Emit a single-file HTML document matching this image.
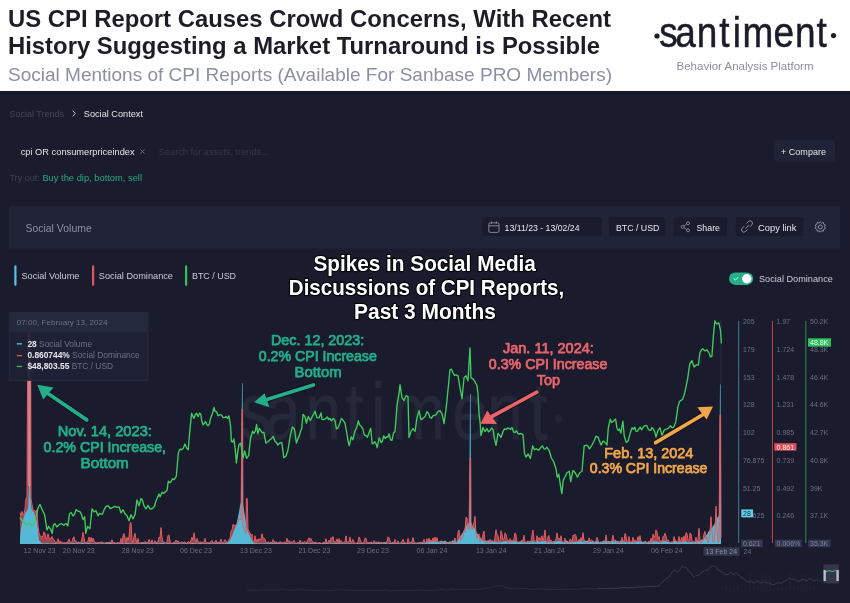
<!DOCTYPE html>
<html><head><meta charset="utf-8"><title>US CPI Report Causes Crowd Concerns</title>
<style>
html,body{margin:0;padding:0;background:#fff;}
body{width:850px;height:603px;overflow:hidden;position:relative;}
svg{position:absolute;left:0;top:0;display:block;}
text{font-family:'Liberation Sans',Arial,sans-serif;}
</style></head><body>
<svg width="850" height="603" viewBox="0 0 850 603">
<rect x="0" y="0" width="850" height="91" fill="#ffffff"/>
<text x="8" y="27" font-size="24" fill="#1d1d27" font-weight="700" textLength="603" lengthAdjust="spacingAndGlyphs" >US CPI Report Causes Crowd Concerns, With Recent</text>
<text x="8" y="53.6" font-size="24" fill="#1d1d27" font-weight="700" textLength="592" lengthAdjust="spacingAndGlyphs" >History Suggesting a Market Turnaround is Possible</text>
<text x="8" y="81.2" font-size="19" fill="#8a90a4" textLength="604" lengthAdjust="spacingAndGlyphs" >Social Mentions of CPI Reports (Available For Sanbase PRO Members)</text>
<circle cx="657" cy="36" r="2.6" fill="#1b1c2a"/>
<circle cx="833.5" cy="35.6" r="2.6" fill="#1b1c2a"/>
<text transform="scale(0.86,1)" y="47.2" font-size="43" fill="#1b1c2a" stroke="#1b1c2a" stroke-width="0.5" x="766.58 785.27 810.10 836.24 852.09 863.36 899.54 924.35 949.50">santiment</text>
<text x="676.5" y="70.4" font-size="11.5" fill="#8b8f9c" textLength="137" lengthAdjust="spacingAndGlyphs" >Behavior Analysis Platform</text>

<rect x="0" y="91" width="850" height="512" fill="#1a1c2d"/>
<rect x="0" y="91" width="850" height="4" fill="#17192a"/>
<text x="9.4" y="116.8" font-size="9" fill="#434658" textLength="54.6" lengthAdjust="spacingAndGlyphs" >Social Trends</text>
<path d="M72.8,110.7 L75.3,113.5 L72.8,116.3" fill="none" stroke="#c9cbd4" stroke-width="1"/>
<text x="83.8" y="116.8" font-size="9.2" fill="#e2e3ea" textLength="59.2" lengthAdjust="spacingAndGlyphs" >Social Context</text>
<text x="20.7" y="155.2" font-size="9.3" fill="#e4e5ec" textLength="113.9" lengthAdjust="spacingAndGlyphs" >cpi OR consumerpriceindex</text>
<path d="M140.3,149.4 L144.5,153.6 M144.5,149.4 L140.3,153.6" stroke="#6f7284" stroke-width="0.9"/>
<text x="158.8" y="155.2" font-size="9.2" fill="#34374a" textLength="110" lengthAdjust="spacingAndGlyphs" >Search for assets, trends...</text>
<rect x="774" y="139.8" width="61" height="22" rx="3" fill="#202335"/>
<text x="781" y="154.7" font-size="9" fill="#e2e3ea" textLength="45" lengthAdjust="spacingAndGlyphs" >+ Compare</text>
<text x="9.4" y="181" font-size="9.3" fill="#3f4254" textLength="30.5" lengthAdjust="spacingAndGlyphs" >Try out:</text>
<text x="42.4" y="181" font-size="9.3" fill="#26a886" textLength="99.6" lengthAdjust="spacingAndGlyphs" >Buy the dip, bottom, sell</text>

<rect x="9" y="205.8" width="831" height="42.6" fill="#212437"/>
<text x="25.4" y="231.5" font-size="11" fill="#8b8fa4" textLength="66.4" lengthAdjust="spacingAndGlyphs" >Social Volume</text>
<rect x="482.3" y="217.3" width="119.6" height="19" rx="2" fill="#1a1c2d"/>
<rect x="488.8" y="222.8" width="10.2" height="9.6" rx="1.5" fill="none" stroke="#8d90a0" stroke-width="0.9"/>
<path d="M488.8,225.8 H499 M491.5,221.5 V223.8 M496.3,221.5 V223.8" stroke="#8d90a0" stroke-width="0.9"/>
<text x="504.6" y="230.8" font-size="8.7" fill="#e6e7ee" textLength="74.9" lengthAdjust="spacingAndGlyphs" >13/11/23 - 13/02/24</text>
<rect x="608.8" y="217.3" width="56.5" height="19" rx="2" fill="#1a1c2d"/>
<text x="616" y="230.8" font-size="8.8" fill="#e6e7ee" textLength="43.4" lengthAdjust="spacingAndGlyphs" >BTC / USD</text>
<rect x="673.5" y="217.3" width="53.5" height="19" rx="2" fill="#1a1c2d"/>
<g stroke="#8d90a0" stroke-width="0.9" fill="none"><circle cx="688" cy="223.3" r="1.5"/><circle cx="682.6" cy="226.8" r="1.5"/><circle cx="688" cy="230.3" r="1.5"/><path d="M684,226 L686.6,224.1 M684,227.6 L686.6,229.5"/></g>
<text x="696.5" y="230.8" font-size="8.8" fill="#e6e7ee" textLength="23.5" lengthAdjust="spacingAndGlyphs" >Share</text>
<rect x="735.9" y="217.3" width="67.6" height="19" rx="2" fill="#1a1c2d"/>
<g stroke="#8d90a0" stroke-width="1" fill="none"><path d="M746.5,223.5 l2,-2 a2.3,2.3 0 0 1 3.3,3.3 l-2,2 M747.5,229.5 l-2,2 a2.3,2.3 0 0 1 -3.3,-3.3 l2,-2 M745.6,228.6 l3.6,-3.6"/></g>
<text x="758" y="230.8" font-size="9.2" fill="#e6e7ee" textLength="38.5" lengthAdjust="spacingAndGlyphs" >Copy link</text>
<g transform="translate(820.3,227)" fill="none" stroke="#8d90a0" stroke-width="1"><circle r="2"/><path d="M0,-5.2 L1.3,-4 L3,-4.6 L3.4,-2.8 L5,-2 L4.3,-0.3 L5,1.5 L3.4,2.3 L3,4.2 L1.2,3.8 L0,5.2 L-1.2,3.8 L-3,4.2 L-3.4,2.3 L-5,1.5 L-4.3,-0.3 L-5,-2 L-3.4,-2.8 L-3,-4.6 L-1.3,-4 Z"/></g>

<rect x="14.3" y="265.3" width="2.2" height="20.6" rx="1.1" fill="#56c2e0"/>
<text x="21.5" y="279.1" font-size="9.1" fill="#c9cbd5" textLength="57.9" lengthAdjust="spacingAndGlyphs" >Social Volume</text>
<rect x="92" y="265.3" width="2.2" height="20.6" rx="1.1" fill="#e0565d"/>
<text x="98.8" y="279.1" font-size="9.2" fill="#c9cbd5" textLength="74.2" lengthAdjust="spacingAndGlyphs" >Social Dominance</text>
<rect x="185" y="265.3" width="2.2" height="20.6" rx="1.1" fill="#2fbf5c"/>
<text x="192" y="279.1" font-size="9.1" fill="#c9cbd5" textLength="44" lengthAdjust="spacingAndGlyphs" >BTC / USD</text>
<rect x="729" y="272.5" width="24.2" height="12.4" rx="6.2" fill="#26b08a"/>
<circle cx="746.8" cy="278.7" r="4.7" fill="#ffffff"/>
<path d="M733.6,278.6 L735.3,280.2 L738.3,277" fill="none" stroke="#e8fff6" stroke-width="0.9"/>
<text x="759" y="281.8" font-size="9.15" fill="#c9cbd5" textLength="73.8" lengthAdjust="spacingAndGlyphs" >Social Dominance</text>

<!-- watermark -->
<text transform="scale(0.8,1)" y="439" font-size="80" fill="#252839" stroke="#252839" stroke-width="0.8" x="299.58 331.37 381.82 431.89 463.95 489.60 565.33 608.95 662.32">santiment</text>
<circle cx="558.5" cy="418.6" r="3.6" fill="#222537"/>

<!-- volume & dominance -->
<path d="M20.0,544.0 L20.0,512.7 L21.0,515.4 L22.0,511.3 L23.0,514.7 L24.0,513.6 L25.0,509.2 L26.0,498.6 L27.0,496.5 L27.8,318.0 L30.6,318.0 L31.0,498.6 L32.0,504.6 L33.0,510.1 L34.0,510.5 L35.0,510.9 L36.0,511.7 L37.0,509.6 L38.0,526.1 L39.0,533.1 L40.0,535.6 L41.0,536.5 L42.0,537.1 L43.0,535.9 L44.0,531.9 L45.0,533.0 L46.0,539.0 L47.0,537.3 L48.0,533.8 L49.0,537.4 L50.0,538.8 L51.0,538.6 L52.0,536.5 L53.0,539.1 L54.0,539.7 L55.0,541.5 L56.0,543.3 L57.0,541.8 L58.0,538.7 L59.0,543.3 L60.0,540.8 L61.0,543.2 L62.0,541.8 L63.0,542.9 L64.0,543.2 L65.0,542.6 L66.0,543.2 L67.0,541.9 L68.0,541.7 L69.0,538.9 L70.0,541.8 L71.0,542.7 L72.0,542.0 L73.0,538.0 L74.0,536.8 L75.0,541.6 L76.0,540.7 L77.0,542.9 L78.0,542.6 L79.0,541.7 L80.0,543.0 L81.0,542.3 L82.0,538.4 L83.0,532.2 L84.0,537.9 L85.0,543.1 L86.0,542.0 L87.0,542.7 L88.0,540.9 L89.0,536.9 L90.0,542.2 L91.0,537.3 L92.0,541.6 L93.0,538.2 L94.0,540.4 L95.0,542.3 L96.0,543.2 L97.0,542.6 L98.0,542.6 L99.0,542.4 L100.0,542.6 L101.0,542.0 L102.0,542.1 L103.0,542.5 L104.0,543.2 L105.0,542.9 L106.0,542.4 L107.0,542.6 L108.0,542.5 L109.0,542.4 L110.0,542.1 L111.0,542.9 L112.0,539.7 L113.0,543.3 L114.0,542.2 L115.0,543.1 L116.0,543.1 L117.0,543.0 L118.0,542.5 L119.0,543.1 L120.0,542.8 L121.0,538.5 L122.0,543.4 L123.0,535.7 L124.0,533.6 L125.0,537.4 L126.0,542.6 L127.0,537.4 L128.0,540.1 L129.0,537.0 L130.2,522.6 L131.0,522.6 L132.0,539.8 L133.0,543.2 L134.0,536.5 L135.0,533.3 L136.0,539.8 L137.0,543.1 L138.0,538.4 L139.0,543.1 L140.0,543.2 L141.0,542.5 L142.0,542.5 L143.0,542.8 L144.0,542.3 L145.0,541.2 L146.0,542.9 L147.0,541.9 L148.0,542.9 L149.0,539.4 L150.0,541.7 L151.0,543.0 L152.0,539.8 L153.0,542.5 L154.0,543.4 L155.0,540.7 L156.0,543.0 L157.0,542.0 L158.0,541.8 L159.0,537.2 L160.0,537.8 L161.0,527.5 L162.0,537.6 L163.0,541.9 L164.0,542.3 L165.0,542.2 L166.0,543.2 L167.0,541.9 L168.0,535.4 L169.0,535.1 L170.0,541.1 L171.0,543.3 L172.0,543.3 L173.0,543.0 L174.0,542.5 L175.0,542.2 L176.0,540.0 L177.0,542.1 L178.0,540.8 L179.0,542.2 L180.0,542.5 L181.0,543.2 L182.0,541.6 L183.0,542.6 L184.0,542.6 L185.0,541.7 L186.0,543.1 L187.0,543.2 L188.0,541.8 L189.0,541.8 L190.0,543.4 L191.0,540.0 L192.0,537.3 L193.0,539.8 L194.0,532.8 L195.0,539.3 L196.0,542.8 L197.0,538.3 L198.0,541.7 L199.0,542.5 L200.0,541.7 L201.0,542.3 L202.0,542.4 L203.0,542.1 L204.0,542.2 L205.0,538.4 L206.0,542.9 L207.0,542.9 L208.0,542.4 L209.0,543.1 L210.0,542.5 L211.0,541.6 L212.0,540.3 L213.0,543.0 L214.0,541.8 L215.0,542.7 L216.0,540.2 L217.0,543.2 L218.0,541.8 L219.0,543.0 L220.0,541.7 L221.0,539.0 L222.0,542.5 L223.0,542.7 L224.0,541.9 L225.0,539.7 L226.0,541.6 L227.0,541.8 L228.0,542.5 L229.0,539.5 L230.0,538.3 L231.0,531.4 L232.0,529.8 L233.0,524.3 L234.0,525.2 L235.0,526.0 L236.0,524.6 L237.0,524.6 L238.0,521.4 L239.0,518.5 L240.0,518.7 L241.0,520.0 L242.0,409.0 L242.6,409.0 L243.0,525.9 L244.0,529.7 L245.0,531.2 L246.0,533.6 L246.4,498.4 L247.2,498.4 L248.0,528.8 L249.0,531.8 L250.0,532.7 L251.0,536.2 L252.0,534.1 L253.0,541.0 L254.0,542.8 L255.0,535.7 L256.0,542.7 L257.0,539.3 L258.0,541.7 L259.0,538.7 L260.0,540.0 L261.0,538.7 L262.0,533.8 L263.0,538.3 L264.0,538.0 L265.0,539.3 L266.0,541.9 L267.0,543.0 L268.0,541.7 L269.0,542.6 L270.0,543.1 L271.0,541.9 L272.0,542.8 L273.0,539.6 L274.0,540.9 L275.0,542.8 L276.0,541.6 L277.0,543.2 L278.0,542.6 L279.0,542.3 L280.0,541.9 L281.0,541.9 L282.0,542.7 L283.0,543.0 L284.0,541.8 L285.0,542.7 L286.0,543.0 L287.0,538.3 L288.0,541.9 L289.0,540.5 L290.0,542.4 L291.0,541.8 L292.0,542.0 L293.0,542.3 L294.0,540.4 L295.0,542.3 L296.0,543.4 L297.0,543.1 L298.0,542.0 L299.0,543.2 L300.0,540.0 L301.0,542.7 L302.0,541.7 L303.0,542.8 L304.0,541.6 L305.0,542.1 L306.0,541.8 L307.0,542.7 L308.0,539.5 L309.0,537.8 L310.0,539.9 L311.0,538.4 L312.0,541.7 L313.0,541.7 L314.0,543.3 L315.0,541.8 L316.0,543.1 L317.0,542.7 L318.0,543.1 L319.0,542.5 L320.0,543.0 L321.0,543.3 L322.0,543.3 L323.0,542.3 L324.0,542.8 L325.0,542.6 L326.0,538.7 L327.0,543.0 L328.0,542.6 L329.0,540.1 L330.0,542.6 L331.0,537.7 L332.0,539.0 L333.0,536.5 L334.0,542.1 L335.0,541.6 L336.0,541.8 L337.0,538.9 L338.0,543.1 L339.0,538.5 L340.0,543.0 L341.0,540.5 L342.0,541.7 L343.0,543.1 L344.0,542.4 L345.0,541.8 L346.0,535.9 L347.0,542.7 L348.0,541.6 L349.0,542.0 L350.0,537.1 L351.0,542.2 L352.0,542.2 L353.0,539.4 L354.0,542.5 L355.0,543.0 L356.0,543.4 L357.0,542.8 L358.0,542.3 L359.0,536.9 L360.0,539.1 L361.0,542.0 L362.0,543.4 L363.0,542.8 L364.0,541.7 L365.0,538.2 L366.0,538.2 L367.0,542.4 L368.0,543.0 L369.0,542.2 L370.0,542.8 L371.0,541.8 L372.0,543.4 L373.0,542.6 L374.0,540.5 L375.0,542.8 L376.0,541.9 L377.0,542.4 L378.0,542.5 L379.0,541.7 L380.0,543.4 L381.0,542.1 L382.0,542.8 L383.0,543.0 L384.0,542.2 L385.0,542.6 L386.0,541.9 L387.0,542.4 L388.0,536.8 L389.0,537.8 L390.0,541.1 L391.0,542.3 L392.0,543.3 L393.0,541.9 L394.0,543.3 L395.0,539.3 L396.0,543.3 L397.0,542.3 L398.0,540.8 L399.0,543.0 L400.0,543.4 L401.0,542.1 L402.0,541.7 L403.0,539.2 L404.0,542.0 L405.0,542.4 L406.0,543.2 L407.0,543.4 L408.0,538.3 L409.0,542.0 L410.0,542.8 L411.0,541.7 L412.0,542.1 L413.0,537.5 L414.0,542.0 L415.0,542.7 L416.0,543.2 L417.0,543.0 L418.0,542.5 L419.0,543.0 L420.0,542.0 L421.0,542.8 L422.0,541.9 L423.0,543.1 L424.0,539.1 L425.0,543.0 L426.0,542.1 L427.0,538.7 L428.0,543.1 L429.0,538.2 L430.0,542.1 L431.0,539.8 L432.0,542.0 L433.0,537.8 L434.0,541.8 L435.0,537.0 L436.0,542.1 L437.0,537.6 L438.0,542.0 L439.0,542.6 L440.0,542.2 L441.0,542.0 L442.0,543.3 L443.0,541.7 L444.0,542.4 L445.0,541.9 L446.0,543.0 L447.0,543.2 L448.0,542.9 L449.0,542.6 L450.0,543.0 L451.0,543.0 L452.0,543.2 L453.0,542.6 L454.0,542.8 L455.0,538.1 L456.0,542.7 L457.0,542.8 L458.0,532.1 L459.0,529.9 L460.0,537.4 L461.0,540.3 L462.0,537.9 L463.0,537.0 L464.0,530.5 L465.0,532.2 L466.0,517.1 L467.0,518.1 L468.0,529.3 L469.0,529.5 L470.1,458.0 L470.7,458.0 L471.0,521.6 L472.0,529.7 L473.0,525.7 L474.0,522.8 L475.0,516.3 L476.0,532.9 L477.0,538.3 L478.0,535.9 L479.0,533.9 L480.0,542.0 L481.0,538.4 L482.0,540.3 L483.0,534.4 L484.0,531.0 L485.0,542.0 L486.0,542.3 L487.0,543.0 L488.0,541.2 L489.0,542.2 L490.0,539.4 L491.0,542.6 L492.0,540.1 L493.0,541.7 L494.0,542.3 L495.0,536.8 L496.0,529.7 L497.0,535.0 L498.0,535.6 L499.0,542.0 L500.0,543.2 L501.0,530.7 L502.0,534.4 L503.0,539.5 L504.0,539.2 L505.0,532.9 L506.0,534.3 L507.0,538.7 L508.0,543.3 L509.0,542.8 L510.0,538.6 L511.0,542.2 L512.0,540.1 L513.0,541.9 L514.0,538.6 L515.0,532.9 L516.0,534.9 L517.0,542.0 L518.0,542.2 L519.0,542.0 L520.0,541.9 L521.0,541.8 L522.0,539.8 L523.0,542.7 L524.0,535.2 L525.0,542.3 L526.0,542.8 L527.0,541.6 L528.0,542.9 L529.0,542.0 L530.0,540.9 L531.0,542.4 L532.0,534.4 L533.0,530.1 L534.0,539.6 L535.0,541.7 L536.0,542.9 L537.0,535.7 L538.0,539.3 L539.0,537.5 L540.0,540.6 L541.0,537.6 L542.0,535.7 L543.0,541.3 L544.0,537.0 L545.0,529.9 L546.0,540.5 L547.0,543.1 L548.0,536.5 L549.0,535.4 L550.0,543.3 L551.0,539.8 L552.0,541.6 L553.0,542.9 L554.0,542.9 L555.0,540.8 L556.0,539.1 L557.0,532.9 L558.0,538.9 L559.0,538.0 L560.0,540.2 L561.0,535.7 L562.0,541.8 L563.0,542.5 L564.0,541.9 L565.0,538.1 L566.0,543.2 L567.0,542.8 L568.0,543.3 L569.0,542.5 L570.0,539.2 L571.0,539.7 L572.0,543.4 L573.0,535.3 L574.0,535.7 L575.0,534.2 L576.0,535.7 L577.0,541.9 L578.0,541.9 L579.0,539.3 L580.0,541.6 L581.0,537.6 L582.0,540.7 L583.0,532.7 L584.0,540.9 L585.0,542.3 L586.0,543.3 L587.0,542.9 L588.0,542.9 L589.0,537.8 L590.0,541.7 L591.0,540.2 L592.0,539.9 L593.0,541.9 L594.0,543.0 L595.0,542.3 L596.0,540.8 L597.0,537.4 L598.0,540.1 L599.0,542.9 L600.0,541.8 L601.0,542.6 L602.0,541.7 L603.0,542.8 L604.0,541.9 L605.0,542.0 L606.0,534.9 L607.0,542.3 L608.0,542.6 L609.0,542.7 L610.0,542.9 L611.0,542.8 L612.0,539.6 L613.0,535.1 L614.0,541.9 L615.0,539.7 L616.0,541.7 L617.0,542.5 L618.0,542.8 L619.0,542.2 L620.0,542.7 L621.0,541.7 L622.0,537.3 L623.0,542.8 L624.0,541.8 L625.0,533.4 L626.0,536.0 L627.0,543.1 L628.0,541.6 L629.0,536.5 L630.0,541.9 L631.0,542.5 L632.0,542.4 L633.0,537.2 L634.0,543.1 L635.0,539.9 L636.0,542.1 L637.0,541.0 L638.0,536.6 L639.0,540.1 L640.0,535.6 L641.0,541.8 L642.0,541.7 L643.0,542.7 L644.0,541.8 L645.0,543.1 L646.0,542.9 L647.0,542.7 L648.0,541.9 L649.0,540.9 L650.0,543.1 L651.0,538.1 L652.0,543.1 L653.0,534.1 L654.0,537.0 L655.0,536.2 L656.0,529.9 L657.0,532.0 L658.0,538.9 L659.0,536.6 L660.0,542.7 L661.0,540.6 L662.0,542.7 L663.0,536.7 L664.0,536.2 L665.0,533.2 L666.0,535.8 L667.0,540.9 L668.0,539.7 L669.0,541.9 L670.0,542.6 L671.0,541.9 L672.0,541.9 L673.0,543.2 L674.0,536.6 L675.0,539.7 L676.0,541.7 L677.0,542.3 L678.0,542.6 L679.0,536.5 L680.0,542.4 L681.0,539.7 L682.0,537.3 L683.0,543.0 L684.0,535.8 L685.0,541.0 L686.0,532.6 L687.0,533.3 L688.0,540.7 L689.0,541.3 L690.0,532.9 L691.0,533.8 L692.0,541.2 L693.0,542.5 L694.0,543.4 L695.0,541.7 L696.0,537.1 L697.0,543.1 L698.0,540.1 L699.0,528.3 L700.0,539.4 L701.0,543.3 L702.0,542.1 L703.0,539.5 L704.0,533.9 L705.0,531.3 L706.0,538.9 L707.0,537.4 L708.0,542.8 L709.0,538.8 L710.0,531.2 L711.0,516.7 L712.0,532.3 L713.0,542.2 L714.0,541.7 L715.0,529.3 L716.0,506.2 L717.0,529.2 L718.0,542.4 L719.0,541.8 L720.0,415.0 L720.6,415.0 L721.0,537.8 L721.0,544.0 Z" fill="#e0565d" fill-opacity="0.7"/>
<path d="M20.0,544.0 L20.0,538.3 L21.0,528.7 L22.0,524.0 L23.0,519.4 L24.0,516.4 L25.0,513.4 L26.0,512.3 L27.0,510.6 L28.0,508.1 L29.2,485.0 L30.0,485.0 L31.0,506.9 L32.0,510.1 L33.0,511.2 L34.0,512.1 L35.0,515.7 L36.0,518.8 L37.0,521.8 L38.0,529.4 L39.0,540.2 L40.0,540.9 L41.0,542.7 L42.0,542.9 L43.0,543.4 L44.0,543.6 L45.0,543.6 L46.0,543.0 L47.0,543.3 L48.0,543.0 L49.0,543.4 L50.0,543.6 L51.0,543.5 L52.0,543.5 L53.0,543.4 L54.0,543.1 L55.0,543.2 L56.0,543.1 L57.0,543.4 L58.0,543.7 L59.0,543.6 L60.0,543.6 L61.0,543.7 L62.0,543.6 L63.0,543.4 L64.0,542.9 L65.0,543.6 L66.0,543.5 L67.0,543.7 L68.0,543.6 L69.0,542.9 L70.0,543.5 L71.0,543.1 L72.0,543.4 L73.0,542.9 L74.0,543.0 L75.0,543.3 L76.0,543.5 L77.0,542.9 L78.0,542.9 L79.0,543.5 L80.0,543.5 L81.0,543.0 L82.0,543.1 L83.0,543.0 L84.0,543.3 L85.0,543.4 L86.0,543.4 L87.0,543.1 L88.0,543.0 L89.0,542.9 L90.0,543.3 L91.0,543.2 L92.0,543.4 L93.0,543.5 L94.0,543.5 L95.0,543.4 L96.0,543.4 L97.0,543.0 L98.0,543.3 L99.0,543.7 L100.0,543.7 L101.0,543.3 L102.0,543.4 L103.0,543.1 L104.0,543.5 L105.0,543.3 L106.0,543.0 L107.0,543.3 L108.0,543.3 L109.0,542.9 L110.0,542.9 L111.0,542.9 L112.0,543.3 L113.0,543.6 L114.0,543.0 L115.0,543.2 L116.0,542.9 L117.0,543.4 L118.0,543.0 L119.0,543.3 L120.0,543.4 L121.0,543.3 L122.0,543.2 L123.0,543.1 L124.0,543.7 L125.0,543.6 L126.0,543.0 L127.0,543.2 L128.0,543.1 L129.0,543.2 L130.0,543.6 L131.0,543.4 L132.0,543.5 L133.0,543.5 L134.0,543.7 L135.0,543.5 L136.0,543.3 L137.0,543.7 L138.0,543.3 L139.0,543.0 L140.0,543.4 L141.0,543.4 L142.0,542.9 L143.0,543.1 L144.0,543.4 L145.0,543.1 L146.0,543.6 L147.0,543.2 L148.0,543.5 L149.0,543.5 L150.0,543.3 L151.0,543.5 L152.0,543.3 L153.0,543.3 L154.0,543.6 L155.0,543.5 L156.0,543.3 L157.0,543.1 L158.0,543.4 L159.0,543.2 L160.0,543.0 L161.0,543.1 L162.0,543.3 L163.0,543.0 L164.0,543.2 L165.0,543.7 L166.0,543.6 L167.0,543.2 L168.0,543.3 L169.0,543.1 L170.0,543.2 L171.0,543.5 L172.0,543.1 L173.0,542.9 L174.0,543.3 L175.0,543.2 L176.0,543.5 L177.0,543.2 L178.0,543.2 L179.0,543.5 L180.0,543.3 L181.0,543.5 L182.0,543.7 L183.0,542.9 L184.0,543.5 L185.0,543.2 L186.0,542.9 L187.0,543.3 L188.0,543.5 L189.0,543.7 L190.0,543.3 L191.0,543.4 L192.0,543.0 L193.0,543.1 L194.0,543.4 L195.0,543.2 L196.0,543.5 L197.0,543.5 L198.0,543.5 L199.0,543.4 L200.0,543.1 L201.0,542.9 L202.0,543.7 L203.0,543.1 L204.0,543.7 L205.0,543.4 L206.0,542.9 L207.0,543.5 L208.0,543.6 L209.0,543.0 L210.0,543.0 L211.0,543.6 L212.0,543.6 L213.0,543.2 L214.0,543.4 L215.0,543.4 L216.0,542.9 L217.0,543.2 L218.0,543.5 L219.0,543.3 L220.0,543.0 L221.0,543.0 L222.0,543.7 L223.0,543.0 L224.0,543.5 L225.0,543.0 L226.0,542.9 L227.0,542.7 L228.0,542.4 L229.0,541.5 L230.0,539.9 L231.0,538.1 L232.0,536.1 L233.0,533.3 L234.0,530.4 L235.0,528.3 L236.0,525.4 L237.0,521.7 L238.0,517.2 L239.0,512.2 L240.0,506.0 L241.0,501.9 L242.0,383.3 L242.6,383.3 L243.0,504.2 L244.0,509.8 L245.0,516.8 L246.0,522.7 L247.0,527.9 L248.0,531.6 L249.0,533.7 L250.0,536.0 L251.0,538.2 L252.0,540.4 L253.0,541.9 L254.0,542.6 L255.0,543.2 L256.0,542.9 L257.0,543.4 L258.0,543.4 L259.0,543.0 L260.0,543.6 L261.0,543.1 L262.0,543.5 L263.0,543.5 L264.0,543.5 L265.0,543.0 L266.0,543.7 L267.0,542.9 L268.0,543.5 L269.0,543.0 L270.0,543.1 L271.0,543.2 L272.0,543.4 L273.0,543.1 L274.0,543.3 L275.0,543.0 L276.0,543.6 L277.0,543.1 L278.0,543.4 L279.0,543.1 L280.0,543.6 L281.0,543.2 L282.0,543.5 L283.0,543.6 L284.0,543.4 L285.0,543.3 L286.0,543.2 L287.0,543.0 L288.0,543.7 L289.0,542.9 L290.0,543.4 L291.0,543.5 L292.0,543.6 L293.0,543.5 L294.0,543.5 L295.0,543.5 L296.0,543.2 L297.0,543.5 L298.0,543.6 L299.0,543.3 L300.0,543.1 L301.0,543.5 L302.0,543.2 L303.0,543.0 L304.0,543.5 L305.0,543.7 L306.0,543.0 L307.0,543.3 L308.0,543.2 L309.0,543.4 L310.0,543.3 L311.0,543.1 L312.0,543.6 L313.0,543.3 L314.0,543.4 L315.0,543.0 L316.0,543.5 L317.0,543.0 L318.0,543.4 L319.0,543.6 L320.0,543.0 L321.0,543.1 L322.0,543.6 L323.0,543.2 L324.0,543.2 L325.0,543.3 L326.0,543.3 L327.0,543.1 L328.0,543.3 L329.0,543.6 L330.0,543.7 L331.0,543.1 L332.0,543.4 L333.0,542.9 L334.0,543.5 L335.0,542.9 L336.0,543.1 L337.0,543.1 L338.0,543.5 L339.0,543.0 L340.0,543.3 L341.0,543.6 L342.0,543.0 L343.0,543.6 L344.0,543.4 L345.0,543.2 L346.0,543.2 L347.0,543.5 L348.0,543.4 L349.0,543.6 L350.0,543.5 L351.0,543.2 L352.0,543.7 L353.0,543.4 L354.0,543.6 L355.0,543.7 L356.0,543.6 L357.0,543.2 L358.0,543.2 L359.0,543.5 L360.0,543.0 L361.0,543.5 L362.0,543.3 L363.0,543.3 L364.0,543.5 L365.0,543.4 L366.0,543.7 L367.0,543.6 L368.0,543.3 L369.0,543.6 L370.0,543.7 L371.0,543.1 L372.0,543.1 L373.0,543.3 L374.0,543.7 L375.0,543.1 L376.0,543.5 L377.0,543.1 L378.0,543.2 L379.0,543.0 L380.0,543.5 L381.0,543.1 L382.0,543.4 L383.0,543.2 L384.0,542.9 L385.0,543.1 L386.0,543.1 L387.0,543.5 L388.0,543.6 L389.0,543.4 L390.0,543.1 L391.0,543.1 L392.0,543.4 L393.0,543.0 L394.0,543.0 L395.0,543.6 L396.0,543.1 L397.0,543.2 L398.0,543.1 L399.0,543.4 L400.0,543.5 L401.0,543.4 L402.0,543.0 L403.0,543.4 L404.0,543.1 L405.0,543.0 L406.0,543.6 L407.0,543.1 L408.0,543.3 L409.0,543.3 L410.0,543.5 L411.0,543.5 L412.0,543.6 L413.0,543.1 L414.0,543.4 L415.0,543.0 L416.0,543.7 L417.0,543.0 L418.0,543.0 L419.0,543.3 L420.0,543.2 L421.0,543.6 L422.0,543.1 L423.0,543.1 L424.0,543.0 L425.0,543.5 L426.0,542.4 L427.0,542.0 L428.0,542.1 L429.0,540.4 L430.0,541.3 L431.0,542.0 L432.0,541.1 L433.0,540.9 L434.0,540.8 L435.0,540.5 L436.0,540.9 L437.0,541.9 L438.0,541.8 L439.0,541.5 L440.0,541.3 L441.0,540.4 L442.0,541.1 L443.0,541.6 L444.0,541.1 L445.0,540.5 L446.0,540.9 L447.0,542.5 L448.0,542.0 L449.0,542.0 L450.0,541.0 L451.0,542.1 L452.0,540.8 L453.0,540.6 L454.0,540.3 L455.0,540.7 L456.0,541.4 L457.0,541.8 L458.0,540.0 L459.0,539.1 L460.0,537.2 L461.0,535.6 L462.0,533.5 L463.0,531.9 L464.0,530.7 L465.0,527.6 L466.0,526.6 L467.0,524.4 L468.0,523.9 L469.0,522.8 L470.1,394.0 L470.7,394.0 L471.0,522.8 L472.0,524.5 L473.0,526.8 L474.0,527.8 L475.0,528.8 L476.0,531.7 L477.0,533.0 L478.0,534.5 L479.0,536.0 L480.0,536.6 L481.0,538.4 L482.0,539.3 L483.0,541.0 L484.0,540.2 L485.0,540.7 L486.0,540.7 L487.0,540.8 L488.0,540.2 L489.0,540.5 L490.0,541.9 L491.0,542.0 L492.0,541.0 L493.0,542.0 L494.0,541.1 L495.0,542.4 L496.0,540.7 L497.0,542.8 L498.0,542.6 L499.0,540.6 L500.0,541.3 L501.0,542.3 L502.0,542.1 L503.0,540.9 L504.0,541.5 L505.0,541.2 L506.0,540.9 L507.0,541.8 L508.0,540.5 L509.0,540.3 L510.0,541.4 L511.0,540.4 L512.0,541.3 L513.0,541.0 L514.0,541.8 L515.0,540.3 L516.0,541.8 L517.0,541.4 L518.0,542.2 L519.0,542.3 L520.0,541.4 L521.0,541.4 L522.0,541.2 L523.0,541.4 L524.0,542.4 L525.0,541.5 L526.0,542.8 L527.0,541.3 L528.0,540.5 L529.0,541.6 L530.0,542.7 L531.0,540.4 L532.0,542.3 L533.0,540.3 L534.0,542.2 L535.0,542.6 L536.0,540.2 L537.0,540.9 L538.0,540.2 L539.0,542.1 L540.0,542.1 L541.0,541.3 L542.0,540.7 L543.0,541.8 L544.0,540.8 L545.0,541.1 L546.0,541.1 L547.0,541.8 L548.0,542.3 L549.0,540.7 L550.0,541.9 L551.0,541.9 L552.0,541.9 L553.0,541.3 L554.0,541.1 L555.0,541.1 L556.0,541.7 L557.0,540.7 L558.0,541.3 L559.0,540.5 L560.0,541.4 L561.0,540.8 L562.0,540.9 L563.0,542.3 L564.0,542.0 L565.0,541.4 L566.0,540.3 L567.0,540.9 L568.0,541.0 L569.0,542.4 L570.0,542.3 L571.0,541.9 L572.0,541.3 L573.0,542.2 L574.0,541.9 L575.0,541.5 L576.0,541.9 L577.0,541.7 L578.0,540.5 L579.0,541.7 L580.0,540.4 L581.0,540.1 L582.0,541.6 L583.0,542.5 L584.0,540.2 L585.0,540.2 L586.0,541.2 L587.0,540.8 L588.0,540.5 L589.0,541.5 L590.0,541.7 L591.0,542.1 L592.0,541.6 L593.0,541.0 L594.0,541.3 L595.0,542.1 L596.0,541.3 L597.0,541.7 L598.0,540.5 L599.0,542.6 L600.0,542.0 L601.0,542.3 L602.0,542.0 L603.0,540.5 L604.0,540.7 L605.0,540.7 L606.0,541.2 L607.0,540.9 L608.0,540.9 L609.0,540.9 L610.0,541.6 L611.0,541.1 L612.0,541.5 L613.0,540.8 L614.0,541.8 L615.0,541.4 L616.0,540.3 L617.0,541.5 L618.0,540.5 L619.0,542.0 L620.0,540.5 L621.0,541.2 L622.0,541.9 L623.0,541.1 L624.0,540.5 L625.0,542.2 L626.0,542.1 L627.0,541.6 L628.0,542.0 L629.0,542.2 L630.0,541.9 L631.0,541.3 L632.0,541.5 L633.0,542.6 L634.0,540.9 L635.0,541.6 L636.0,542.2 L637.0,541.7 L638.0,540.9 L639.0,541.2 L640.0,541.5 L641.0,541.3 L642.0,541.6 L643.0,542.0 L644.0,541.7 L645.0,540.6 L646.0,541.6 L647.0,542.6 L648.0,542.3 L649.0,541.6 L650.0,542.2 L651.0,540.5 L652.0,541.5 L653.0,542.0 L654.0,540.7 L655.0,541.4 L656.0,541.7 L657.0,541.1 L658.0,542.4 L659.0,541.6 L660.0,542.5 L661.0,541.7 L662.0,540.3 L663.0,541.4 L664.0,541.1 L665.0,541.2 L666.0,540.7 L667.0,542.1 L668.0,542.0 L669.0,541.8 L670.0,542.6 L671.0,542.6 L672.0,542.3 L673.0,540.7 L674.0,540.9 L675.0,541.2 L676.0,540.5 L677.0,541.3 L678.0,541.9 L679.0,541.7 L680.0,541.2 L681.0,542.1 L682.0,541.8 L683.0,540.5 L684.0,541.5 L685.0,540.8 L686.0,541.4 L687.0,542.2 L688.0,542.2 L689.0,542.1 L690.0,542.6 L691.0,542.1 L692.0,542.2 L693.0,541.6 L694.0,541.0 L695.0,542.2 L696.0,541.6 L697.0,540.2 L698.0,540.6 L699.0,541.5 L700.0,541.0 L701.0,539.4 L702.0,539.4 L703.0,540.0 L704.0,538.8 L705.0,537.0 L706.0,535.1 L707.0,534.7 L708.0,532.0 L709.0,531.2 L710.0,530.0 L711.0,527.1 L712.0,528.0 L713.0,525.9 L714.0,524.6 L715.0,523.3 L716.0,519.9 L717.0,517.8 L718.0,517.1 L719.0,515.0 L720.0,384.2 L720.6,384.2 L721.0,518.2 L721.0,544.0 Z" fill="#55b8d4"/>
<path d="M20.0,512.7 L21.0,515.4 L22.0,511.3 L23.0,514.7 L24.0,513.6 L25.0,509.2 L26.0,498.6 L27.0,496.5 L27.8,318.0 L30.6,318.0 L31.0,498.6 L32.0,504.6 L33.0,510.1 L34.0,510.5 L35.0,510.9 L36.0,511.7 L37.0,509.6 L38.0,526.1 L39.0,533.1 L40.0,535.6 L41.0,536.5 L42.0,537.1 L43.0,535.9 L44.0,531.9 L45.0,533.0 L46.0,539.0 L47.0,537.3 L48.0,533.8 L49.0,537.4 L50.0,538.8 L51.0,538.6 L52.0,536.5 L53.0,539.1 L54.0,539.7 L55.0,541.5 L56.0,543.3 L57.0,541.8 L58.0,538.7 L59.0,543.3 L60.0,540.8 L61.0,543.2 L62.0,541.8 L63.0,542.9 L64.0,543.2 L65.0,542.6 L66.0,543.2 L67.0,541.9 L68.0,541.7 L69.0,538.9 L70.0,541.8 L71.0,542.7 L72.0,542.0 L73.0,538.0 L74.0,536.8 L75.0,541.6 L76.0,540.7 L77.0,542.9 L78.0,542.6 L79.0,541.7 L80.0,543.0 L81.0,542.3 L82.0,538.4 L83.0,532.2 L84.0,537.9 L85.0,543.1 L86.0,542.0 L87.0,542.7 L88.0,540.9 L89.0,536.9 L90.0,542.2 L91.0,537.3 L92.0,541.6 L93.0,538.2 L94.0,540.4 L95.0,542.3 L96.0,543.2 L97.0,542.6 L98.0,542.6 L99.0,542.4 L100.0,542.6 L101.0,542.0 L102.0,542.1 L103.0,542.5 L104.0,543.2 L105.0,542.9 L106.0,542.4 L107.0,542.6 L108.0,542.5 L109.0,542.4 L110.0,542.1 L111.0,542.9 L112.0,539.7 L113.0,543.3 L114.0,542.2 L115.0,543.1 L116.0,543.1 L117.0,543.0 L118.0,542.5 L119.0,543.1 L120.0,542.8 L121.0,538.5 L122.0,543.4 L123.0,535.7 L124.0,533.6 L125.0,537.4 L126.0,542.6 L127.0,537.4 L128.0,540.1 L129.0,537.0 L130.2,522.6 L131.0,522.6 L132.0,539.8 L133.0,543.2 L134.0,536.5 L135.0,533.3 L136.0,539.8 L137.0,543.1 L138.0,538.4 L139.0,543.1 L140.0,543.2 L141.0,542.5 L142.0,542.5 L143.0,542.8 L144.0,542.3 L145.0,541.2 L146.0,542.9 L147.0,541.9 L148.0,542.9 L149.0,539.4 L150.0,541.7 L151.0,543.0 L152.0,539.8 L153.0,542.5 L154.0,543.4 L155.0,540.7 L156.0,543.0 L157.0,542.0 L158.0,541.8 L159.0,537.2 L160.0,537.8 L161.0,527.5 L162.0,537.6 L163.0,541.9 L164.0,542.3 L165.0,542.2 L166.0,543.2 L167.0,541.9 L168.0,535.4 L169.0,535.1 L170.0,541.1 L171.0,543.3 L172.0,543.3 L173.0,543.0 L174.0,542.5 L175.0,542.2 L176.0,540.0 L177.0,542.1 L178.0,540.8 L179.0,542.2 L180.0,542.5 L181.0,543.2 L182.0,541.6 L183.0,542.6 L184.0,542.6 L185.0,541.7 L186.0,543.1 L187.0,543.2 L188.0,541.8 L189.0,541.8 L190.0,543.4 L191.0,540.0 L192.0,537.3 L193.0,539.8 L194.0,532.8 L195.0,539.3 L196.0,542.8 L197.0,538.3 L198.0,541.7 L199.0,542.5 L200.0,541.7 L201.0,542.3 L202.0,542.4 L203.0,542.1 L204.0,542.2 L205.0,538.4 L206.0,542.9 L207.0,542.9 L208.0,542.4 L209.0,543.1 L210.0,542.5 L211.0,541.6 L212.0,540.3 L213.0,543.0 L214.0,541.8 L215.0,542.7 L216.0,540.2 L217.0,543.2 L218.0,541.8 L219.0,543.0 L220.0,541.7 L221.0,539.0 L222.0,542.5 L223.0,542.7 L224.0,541.9 L225.0,539.7 L226.0,541.6 L227.0,541.8 L228.0,542.5 L229.0,539.5 L230.0,538.3 L231.0,531.4 L232.0,529.8 L233.0,524.3 L234.0,525.2 L235.0,526.0 L236.0,524.6 L237.0,524.6 L238.0,521.4 L239.0,518.5 L240.0,518.7 L241.0,520.0 L242.0,409.0 L242.6,409.0 L243.0,525.9 L244.0,529.7 L245.0,531.2 L246.0,533.6 L246.4,498.4 L247.2,498.4 L248.0,528.8 L249.0,531.8 L250.0,532.7 L251.0,536.2 L252.0,534.1 L253.0,541.0 L254.0,542.8 L255.0,535.7 L256.0,542.7 L257.0,539.3 L258.0,541.7 L259.0,538.7 L260.0,540.0 L261.0,538.7 L262.0,533.8 L263.0,538.3 L264.0,538.0 L265.0,539.3 L266.0,541.9 L267.0,543.0 L268.0,541.7 L269.0,542.6 L270.0,543.1 L271.0,541.9 L272.0,542.8 L273.0,539.6 L274.0,540.9 L275.0,542.8 L276.0,541.6 L277.0,543.2 L278.0,542.6 L279.0,542.3 L280.0,541.9 L281.0,541.9 L282.0,542.7 L283.0,543.0 L284.0,541.8 L285.0,542.7 L286.0,543.0 L287.0,538.3 L288.0,541.9 L289.0,540.5 L290.0,542.4 L291.0,541.8 L292.0,542.0 L293.0,542.3 L294.0,540.4 L295.0,542.3 L296.0,543.4 L297.0,543.1 L298.0,542.0 L299.0,543.2 L300.0,540.0 L301.0,542.7 L302.0,541.7 L303.0,542.8 L304.0,541.6 L305.0,542.1 L306.0,541.8 L307.0,542.7 L308.0,539.5 L309.0,537.8 L310.0,539.9 L311.0,538.4 L312.0,541.7 L313.0,541.7 L314.0,543.3 L315.0,541.8 L316.0,543.1 L317.0,542.7 L318.0,543.1 L319.0,542.5 L320.0,543.0 L321.0,543.3 L322.0,543.3 L323.0,542.3 L324.0,542.8 L325.0,542.6 L326.0,538.7 L327.0,543.0 L328.0,542.6 L329.0,540.1 L330.0,542.6 L331.0,537.7 L332.0,539.0 L333.0,536.5 L334.0,542.1 L335.0,541.6 L336.0,541.8 L337.0,538.9 L338.0,543.1 L339.0,538.5 L340.0,543.0 L341.0,540.5 L342.0,541.7 L343.0,543.1 L344.0,542.4 L345.0,541.8 L346.0,535.9 L347.0,542.7 L348.0,541.6 L349.0,542.0 L350.0,537.1 L351.0,542.2 L352.0,542.2 L353.0,539.4 L354.0,542.5 L355.0,543.0 L356.0,543.4 L357.0,542.8 L358.0,542.3 L359.0,536.9 L360.0,539.1 L361.0,542.0 L362.0,543.4 L363.0,542.8 L364.0,541.7 L365.0,538.2 L366.0,538.2 L367.0,542.4 L368.0,543.0 L369.0,542.2 L370.0,542.8 L371.0,541.8 L372.0,543.4 L373.0,542.6 L374.0,540.5 L375.0,542.8 L376.0,541.9 L377.0,542.4 L378.0,542.5 L379.0,541.7 L380.0,543.4 L381.0,542.1 L382.0,542.8 L383.0,543.0 L384.0,542.2 L385.0,542.6 L386.0,541.9 L387.0,542.4 L388.0,536.8 L389.0,537.8 L390.0,541.1 L391.0,542.3 L392.0,543.3 L393.0,541.9 L394.0,543.3 L395.0,539.3 L396.0,543.3 L397.0,542.3 L398.0,540.8 L399.0,543.0 L400.0,543.4 L401.0,542.1 L402.0,541.7 L403.0,539.2 L404.0,542.0 L405.0,542.4 L406.0,543.2 L407.0,543.4 L408.0,538.3 L409.0,542.0 L410.0,542.8 L411.0,541.7 L412.0,542.1 L413.0,537.5 L414.0,542.0 L415.0,542.7 L416.0,543.2 L417.0,543.0 L418.0,542.5 L419.0,543.0 L420.0,542.0 L421.0,542.8 L422.0,541.9 L423.0,543.1 L424.0,539.1 L425.0,543.0 L426.0,542.1 L427.0,538.7 L428.0,543.1 L429.0,538.2 L430.0,542.1 L431.0,539.8 L432.0,542.0 L433.0,537.8 L434.0,541.8 L435.0,537.0 L436.0,542.1 L437.0,537.6 L438.0,542.0 L439.0,542.6 L440.0,542.2 L441.0,542.0 L442.0,543.3 L443.0,541.7 L444.0,542.4 L445.0,541.9 L446.0,543.0 L447.0,543.2 L448.0,542.9 L449.0,542.6 L450.0,543.0 L451.0,543.0 L452.0,543.2 L453.0,542.6 L454.0,542.8 L455.0,538.1 L456.0,542.7 L457.0,542.8 L458.0,532.1 L459.0,529.9 L460.0,537.4 L461.0,540.3 L462.0,537.9 L463.0,537.0 L464.0,530.5 L465.0,532.2 L466.0,517.1 L467.0,518.1 L468.0,529.3 L469.0,529.5 L470.1,458.0 L470.7,458.0 L471.0,521.6 L472.0,529.7 L473.0,525.7 L474.0,522.8 L475.0,516.3 L476.0,532.9 L477.0,538.3 L478.0,535.9 L479.0,533.9 L480.0,542.0 L481.0,538.4 L482.0,540.3 L483.0,534.4 L484.0,531.0 L485.0,542.0 L486.0,542.3 L487.0,543.0 L488.0,541.2 L489.0,542.2 L490.0,539.4 L491.0,542.6 L492.0,540.1 L493.0,541.7 L494.0,542.3 L495.0,536.8 L496.0,529.7 L497.0,535.0 L498.0,535.6 L499.0,542.0 L500.0,543.2 L501.0,530.7 L502.0,534.4 L503.0,539.5 L504.0,539.2 L505.0,532.9 L506.0,534.3 L507.0,538.7 L508.0,543.3 L509.0,542.8 L510.0,538.6 L511.0,542.2 L512.0,540.1 L513.0,541.9 L514.0,538.6 L515.0,532.9 L516.0,534.9 L517.0,542.0 L518.0,542.2 L519.0,542.0 L520.0,541.9 L521.0,541.8 L522.0,539.8 L523.0,542.7 L524.0,535.2 L525.0,542.3 L526.0,542.8 L527.0,541.6 L528.0,542.9 L529.0,542.0 L530.0,540.9 L531.0,542.4 L532.0,534.4 L533.0,530.1 L534.0,539.6 L535.0,541.7 L536.0,542.9 L537.0,535.7 L538.0,539.3 L539.0,537.5 L540.0,540.6 L541.0,537.6 L542.0,535.7 L543.0,541.3 L544.0,537.0 L545.0,529.9 L546.0,540.5 L547.0,543.1 L548.0,536.5 L549.0,535.4 L550.0,543.3 L551.0,539.8 L552.0,541.6 L553.0,542.9 L554.0,542.9 L555.0,540.8 L556.0,539.1 L557.0,532.9 L558.0,538.9 L559.0,538.0 L560.0,540.2 L561.0,535.7 L562.0,541.8 L563.0,542.5 L564.0,541.9 L565.0,538.1 L566.0,543.2 L567.0,542.8 L568.0,543.3 L569.0,542.5 L570.0,539.2 L571.0,539.7 L572.0,543.4 L573.0,535.3 L574.0,535.7 L575.0,534.2 L576.0,535.7 L577.0,541.9 L578.0,541.9 L579.0,539.3 L580.0,541.6 L581.0,537.6 L582.0,540.7 L583.0,532.7 L584.0,540.9 L585.0,542.3 L586.0,543.3 L587.0,542.9 L588.0,542.9 L589.0,537.8 L590.0,541.7 L591.0,540.2 L592.0,539.9 L593.0,541.9 L594.0,543.0 L595.0,542.3 L596.0,540.8 L597.0,537.4 L598.0,540.1 L599.0,542.9 L600.0,541.8 L601.0,542.6 L602.0,541.7 L603.0,542.8 L604.0,541.9 L605.0,542.0 L606.0,534.9 L607.0,542.3 L608.0,542.6 L609.0,542.7 L610.0,542.9 L611.0,542.8 L612.0,539.6 L613.0,535.1 L614.0,541.9 L615.0,539.7 L616.0,541.7 L617.0,542.5 L618.0,542.8 L619.0,542.2 L620.0,542.7 L621.0,541.7 L622.0,537.3 L623.0,542.8 L624.0,541.8 L625.0,533.4 L626.0,536.0 L627.0,543.1 L628.0,541.6 L629.0,536.5 L630.0,541.9 L631.0,542.5 L632.0,542.4 L633.0,537.2 L634.0,543.1 L635.0,539.9 L636.0,542.1 L637.0,541.0 L638.0,536.6 L639.0,540.1 L640.0,535.6 L641.0,541.8 L642.0,541.7 L643.0,542.7 L644.0,541.8 L645.0,543.1 L646.0,542.9 L647.0,542.7 L648.0,541.9 L649.0,540.9 L650.0,543.1 L651.0,538.1 L652.0,543.1 L653.0,534.1 L654.0,537.0 L655.0,536.2 L656.0,529.9 L657.0,532.0 L658.0,538.9 L659.0,536.6 L660.0,542.7 L661.0,540.6 L662.0,542.7 L663.0,536.7 L664.0,536.2 L665.0,533.2 L666.0,535.8 L667.0,540.9 L668.0,539.7 L669.0,541.9 L670.0,542.6 L671.0,541.9 L672.0,541.9 L673.0,543.2 L674.0,536.6 L675.0,539.7 L676.0,541.7 L677.0,542.3 L678.0,542.6 L679.0,536.5 L680.0,542.4 L681.0,539.7 L682.0,537.3 L683.0,543.0 L684.0,535.8 L685.0,541.0 L686.0,532.6 L687.0,533.3 L688.0,540.7 L689.0,541.3 L690.0,532.9 L691.0,533.8 L692.0,541.2 L693.0,542.5 L694.0,543.4 L695.0,541.7 L696.0,537.1 L697.0,543.1 L698.0,540.1 L699.0,528.3 L700.0,539.4 L701.0,543.3 L702.0,542.1 L703.0,539.5 L704.0,533.9 L705.0,531.3 L706.0,538.9 L707.0,537.4 L708.0,542.8 L709.0,538.8 L710.0,531.2 L711.0,516.7 L712.0,532.3 L713.0,542.2 L714.0,541.7 L715.0,529.3 L716.0,506.2 L717.0,529.2 L718.0,542.4 L719.0,541.8 L720.0,415.0 L720.6,415.0 L721.0,537.8" fill="none" stroke="#e35b61" stroke-width="1"/>
<line x1="721" y1="320" x2="721" y2="384" stroke="#2c2f42" stroke-width="1"/>
<rect x="28.1" y="318" width="2.4" height="168" fill="#d98591"/>
<!-- BTC -->
<polyline points="19.9,517.7 22.0,520.6 23.7,521.4 25.4,524.7 27.2,524.3 29.0,523.5 30.7,524.1 32.4,526.0 33.8,522.8 35.1,519.1 36.5,514.8 38.2,507.5 40.0,504.4 42.3,510.0 44.6,514.8 47.0,530.0 48.7,526.4 50.4,528.8 52.2,533.4 53.3,525.3 55.0,523.8 56.8,527.0 59.1,524.7 61.4,523.5 63.8,525.3 66.0,523.5 67.8,525.9 69.6,513.7 71.3,512.5 73.0,516.0 74.5,514.4 76.0,509.6 78.3,511.3 79.8,511.3 81.2,513.7 83.0,519.5 84.7,517.0 85.8,533.4 87.6,526.4 89.9,528.8 92.0,508.9 94.0,511.8 96.0,510.8 98.0,515.8 99.5,513.5 101.0,513.8 102.5,514.2 104.0,509.9 106.0,506.4 107.2,506.0 108.4,505.9 110.2,508.5 112.0,507.9 113.5,507.0 115.0,506.4 117.0,507.3 119.0,506.9 121.0,512.8 123.0,509.9 125.0,513.8 127.0,515.8 129.0,520.8 131.0,514.8 133.0,518.8 135.0,514.8 137.0,499.9 139.0,505.9 141.0,498.4 142.5,500.5 144.0,505.9 146.0,508.9 148.0,505.4 150.0,508.9 151.5,509.0 153.0,507.9 154.5,506.2 156.0,500.9 157.5,497.5 159.0,493.9 160.0,496.9 162.0,492.4 163.5,493.4 165.0,492.1 167.0,490.5 168.3,481.3 169.6,482.6 170.8,482.2 172.4,478.9 174.0,479.7 176.3,476.3 178.3,453.1 180.0,449.0 181.7,449.8 183.3,448.1 185.0,444.0 186.6,448.1 188.2,449.8 189.9,429.9 191.6,413.3 192.8,416.2 194.0,418.3 195.2,414.8 196.5,413.3 198.2,416.6 199.4,413.1 200.7,414.1 201.9,421.3 203.2,424.9 204.4,423.1 205.7,421.6 206.9,424.7 208.2,425.7 209.4,423.8 210.6,418.3 212.3,413.9 214.0,407.5 215.2,411.6 216.5,411.6 218.0,415.8 219.7,414.8 221.4,414.9 223.1,417.6 224.8,417.4 226.2,416.6 227.6,418.4 229.0,415.8 230.6,426.6 231.4,441.5 232.7,442.1 233.9,439.0 235.2,449.1 236.4,463.0 237.7,452.2 238.9,444.8 240.5,443.2 241.8,449.2 243.0,458.0 244.6,451.0 246.6,458.3 248.6,455.7 250.6,437.8 252.6,431.1 253.9,433.3 255.3,431.1 256.6,424.5 257.9,433.8 259.2,428.5 260.5,430.2 261.9,432.5 263.9,432.5 265.9,443.1 267.9,441.7 269.9,439.8 271.5,438.7 273.2,436.4 275.2,441.7 276.5,442.4 277.8,445.1 279.8,443.1 281.8,442.4 283.8,457.7 285.8,456.3 287.8,451.0 289.1,443.1 290.4,435.1 292.4,427.1 294.4,429.1 296.4,443.1 297.7,439.2 299.0,436.4 300.4,431.7 301.7,428.5 303.0,414.5 305.0,416.5 306.3,423.2 308.3,416.5 310.3,420.5 312.3,416.5 313.6,414.3 315.0,411.2 317.0,417.9 319.0,417.9 321.0,412.9 322.0,419.4 323.5,419.6 325.0,418.9 327.4,416.9 328.7,419.6 330.0,418.4 331.4,420.8 333.4,418.4 335.0,420.8 336.4,428.8 337.7,428.2 339.0,425.8 341.4,418.4 343.4,420.8 344.9,422.8 346.8,432.8 348.1,441.3 349.3,445.7 351.3,436.8 352.8,439.8 354.8,431.8 356.8,427.3 358.3,420.8 359.6,425.0 360.8,425.8 362.8,428.8 364.3,434.8 366.2,435.8 367.4,437.2 368.7,433.8 370.7,428.3 372.2,443.7 373.4,443.5 374.7,441.7 375.9,443.1 377.2,447.7 379.2,437.8 381.2,442.7 382.4,441.0 383.7,435.8 385.1,438.5 386.6,436.8 387.9,437.2 389.1,433.8 390.6,439.8 392.0,440.4 393.6,432.8 395.0,431.5 397.0,405.6 399.0,393.7 400.0,384.7 402.0,397.7 404.0,400.6 406.0,395.7 408.0,396.7 409.0,437.5 411.0,431.5 413.0,428.5 415.0,431.5 417.0,417.6 419.0,410.6 421.0,419.6 422.5,418.9 424.0,417.6 425.5,415.6 427.0,411.6 428.5,413.2 430.0,417.6 431.5,418.2 433.0,415.6 434.5,415.5 436.0,414.6 438.0,411.6 440.0,410.6 442.0,413.6 444.0,423.5 446.0,409.6 448.0,389.7 450.0,369.8 451.5,369.2 453.0,372.8 454.5,375.5 456.0,374.8 458.0,375.8 460.0,387.7 462.0,398.7 464.0,377.8 466.0,375.8 468.0,380.7 470.0,347.9 471.0,377.8 473.0,378.8 475.0,381.7 477.0,385.7 478.0,393.7 479.0,413.6 480.0,421.5 481.0,435.5 483.0,427.5 485.0,431.5 487.0,428.5 488.5,431.9 490.0,430.5 491.5,428.0 493.0,429.5 494.5,438.9 496.0,445.4 498.0,433.5 499.5,435.1 501.0,437.5 503.0,431.5 504.5,428.8 506.0,429.5 507.5,428.0 509.0,428.5 510.5,429.3 512.0,427.5 513.5,431.8 515.0,432.5 516.5,430.8 518.0,433.5 519.5,434.0 521.0,433.5 523.0,434.6 524.5,453.3 526.0,457.0 528.2,454.0 530.4,458.5 532.7,445.8 534.2,449.6 536.4,448.8 538.7,450.3 540.9,447.3 542.4,445.9 543.9,448.8 545.4,449.1 546.9,447.3 549.1,450.3 551.3,457.8 553.6,461.5 555.8,468.2 557.3,477.2 558.8,474.2 560.3,484.6 561.8,493.6 563.3,480.1 564.8,477.2 567.0,472.7 569.3,471.2 570.7,481.6 573.0,470.4 575.2,472.7 577.5,477.2 579.7,472.7 582.0,471.2 584.2,445.8 586.4,445.1 587.9,446.1 589.4,448.8 591.6,445.8 593.9,441.3 596.1,436.1 598.4,437.6 599.0,439.7 601.0,445.0 603.0,441.0 605.0,442.4 607.0,445.0 608.3,427.8 610.3,419.1 611.6,422.5 613.6,421.1 615.6,419.1 616.9,427.8 618.2,430.4 619.5,429.1 620.9,433.1 622.9,421.1 624.2,435.7 626.2,442.4 628.2,441.0 630.2,433.1 632.1,427.8 633.5,429.3 634.8,427.1 636.1,431.4 637.5,431.1 638.8,429.1 640.1,427.1 641.5,429.8 642.8,427.8 644.1,425.9 645.4,425.8 646.8,425.4 648.1,429.1 649.4,430.2 650.7,430.4 652.0,427.5 653.4,429.1 654.7,431.6 656.0,437.0 658.0,430.4 660.0,427.8 662.0,435.7 664.0,430.4 665.3,429.3 666.6,429.1 668.0,428.6 669.3,427.1 670.6,425.8 672.0,427.8 673.6,427.3 675.8,421.9 677.9,406.9 679.5,401.5 681.1,400.4 682.8,398.9 684.4,393.9 685.4,389.6 687.6,378.9 689.8,363.8 691.9,360.6 694.1,367.0 696.2,364.9 698.4,364.9 699.9,353.0 701.3,350.0 702.7,348.7 704.8,350.9 707.0,349.8 709.1,353.0 710.5,356.9 711.9,356.3 713.4,335.8 714.9,320.8 716.7,324.0 718.8,322.9 720.5,330.4 721.4,343.4" fill="none" stroke="#3fcd5d" stroke-width="1.35" stroke-linejoin="round"/>

<!-- axes -->
<line x1="738.7" y1="321" x2="738.7" y2="543" stroke="#3b7d98" stroke-width="1"/>
<line x1="772.4" y1="321" x2="772.4" y2="543" stroke="#b8484f" stroke-width="1"/>
<line x1="805.8" y1="321" x2="805.8" y2="543" stroke="#2f8a55" stroke-width="1"/>
<text x="742.9" y="323.8" font-size="7" fill="#6b6f80" >205</text>
<text x="776.6" y="323.8" font-size="7" fill="#6b6f80" >1.97</text>
<text x="810" y="323.8" font-size="7" fill="#6b6f80" >50.2K</text>
<text x="742.9" y="351.7" font-size="7" fill="#6b6f80" >179</text>
<text x="776.6" y="351.7" font-size="7" fill="#6b6f80" >1.724</text>
<text x="810" y="351.7" font-size="7" fill="#6b6f80" >48.3K</text>
<text x="742.9" y="379.7" font-size="7" fill="#6b6f80" >153</text>
<text x="776.6" y="379.7" font-size="7" fill="#6b6f80" >1.478</text>
<text x="810" y="379.7" font-size="7" fill="#6b6f80" >46.4K</text>
<text x="742.9" y="407.4" font-size="7" fill="#6b6f80" >128</text>
<text x="776.6" y="407.4" font-size="7" fill="#6b6f80" >1.231</text>
<text x="810" y="407.4" font-size="7" fill="#6b6f80" >44.6K</text>
<text x="742.9" y="435.3" font-size="7" fill="#6b6f80" >102</text>
<text x="776.6" y="435.3" font-size="7" fill="#6b6f80" >0.985</text>
<text x="810" y="435.3" font-size="7" fill="#6b6f80" >42.7K</text>
<text x="742.9" y="463.1" font-size="7" fill="#6b6f80" >76.875</text>
<text x="776.6" y="463.1" font-size="7" fill="#6b6f80" >0.739</text>
<text x="810" y="463.1" font-size="7" fill="#6b6f80" >40.8K</text>
<text x="742.9" y="491.0" font-size="7" fill="#6b6f80" >51.25</text>
<text x="776.6" y="491.0" font-size="7" fill="#6b6f80" >0.492</text>
<text x="810" y="491.0" font-size="7" fill="#6b6f80" >39K</text>
<text x="742.9" y="518.4" font-size="7" fill="#6b6f80" >25.625</text>
<text x="776.6" y="518.4" font-size="7" fill="#6b6f80" >0.246</text>
<text x="810" y="518.4" font-size="7" fill="#6b6f80" >37.1K</text>
<rect x="808" y="338.3" width="23" height="8.4" fill="#2fbf5c"/>
<text x="810" y="345.2" font-size="7" fill="#e9fff0" >48.8K</text>
<rect x="774.3" y="443.2" width="22.1" height="7.4" fill="#e0525a"/>
<text x="776.6" y="449.5" font-size="7" fill="#ffe9ea" >0.861</text>
<rect x="741.3" y="509.4" width="11.7" height="7.8" fill="#5fd0ea"/>
<text x="743" y="516" font-size="7" fill="#14303a" >28</text>
<rect x="741.3" y="539.6" width="21.4" height="7.6" fill="#34374f"/>
<text x="742.9" y="546" font-size="7" fill="#7d8196" >0.621</text>
<rect x="774.8" y="539.6" width="26.9" height="7.6" fill="#34374f"/>
<text x="776.6" y="546" font-size="7" fill="#7d8196" >0.006%</text>
<rect x="808.2" y="539.6" width="22.3" height="7.6" fill="#34374f"/>
<text x="810" y="546" font-size="7" fill="#7d8196" >35.3K</text>
<text x="23.6" y="553.3" font-size="7" fill="#6b6f80" >12 Nov 23</text>
<text x="62.8" y="553.3" font-size="7" fill="#6b6f80" >20 Nov 23</text>
<text x="121.8" y="553.3" font-size="7" fill="#6b6f80" >28 Nov 23</text>
<text x="180" y="553.3" font-size="7" fill="#6b6f80" >06 Dec 23</text>
<text x="240" y="553.3" font-size="7" fill="#6b6f80" >13 Dec 23</text>
<text x="298.4" y="553.3" font-size="7" fill="#6b6f80" >21 Dec 23</text>
<text x="357" y="553.3" font-size="7" fill="#6b6f80" >29 Dec 23</text>
<text x="416.6" y="553.3" font-size="7" fill="#6b6f80" >06 Jan 24</text>
<text x="475.9" y="553.3" font-size="7" fill="#6b6f80" >13 Jan 24</text>
<text x="534" y="553.3" font-size="7" fill="#6b6f80" >21 Jan 24</text>
<text x="593" y="553.3" font-size="7" fill="#6b6f80" >29 Jan 24</text>
<text x="651" y="553.3" font-size="7" fill="#6b6f80" >06 Feb 24</text>
<rect x="703.5" y="547.2" width="36" height="8.6" fill="#34374f"/>
<text x="705.5" y="553.8" font-size="7" fill="#8a8ea2" >13 Feb 24</text>
<text x="743.6" y="553.8" font-size="7" fill="#6b6f80" >24</text>

<!-- navigator -->
<g stroke="#25283b" stroke-width="0.8"><line x1="722" y1="587.3" x2="722" y2="591"/><line x1="726" y1="584.5" x2="726" y2="591"/><line x1="730" y1="587.0" x2="730" y2="591"/><line x1="734" y1="588.9" x2="734" y2="591"/><line x1="738" y1="586.2" x2="738" y2="591"/><line x1="742" y1="589.4" x2="742" y2="591"/><line x1="746" y1="589.5" x2="746" y2="591"/><line x1="750" y1="571.8" x2="750" y2="591"/><line x1="754" y1="584.1" x2="754" y2="591"/><line x1="758" y1="586.1" x2="758" y2="591"/><line x1="762" y1="575.1" x2="762" y2="591"/><line x1="766" y1="572.8" x2="766" y2="591"/><line x1="770" y1="574.9" x2="770" y2="591"/><line x1="774" y1="589.8" x2="774" y2="591"/><line x1="778" y1="587.4" x2="778" y2="591"/><line x1="782" y1="586.9" x2="782" y2="591"/><line x1="786" y1="587.0" x2="786" y2="591"/><line x1="790" y1="573.3" x2="790" y2="591"/><line x1="794" y1="584.0" x2="794" y2="591"/><line x1="798" y1="585.0" x2="798" y2="591"/><line x1="802" y1="574.1" x2="802" y2="591"/><line x1="806" y1="574.3" x2="806" y2="591"/><line x1="810" y1="585.4" x2="810" y2="591"/><line x1="814" y1="584.9" x2="814" y2="591"/></g>
<polyline points="247.0,590.0 249.0,590.1 251.1,590.2 253.1,590.3 255.2,590.4 257.2,590.2 259.2,590.4 261.3,589.5 263.3,590.0 265.3,590.4 267.4,590.1 269.4,590.4 271.5,589.6 273.5,590.0 275.5,589.7 277.6,590.0 279.6,590.1 281.7,589.5 283.7,589.7 285.7,589.8 287.8,590.4 289.8,590.3 291.8,589.7 293.9,590.3 295.9,589.6 298.0,590.1 300.0,590.0 302.0,589.6 304.0,589.5 306.0,590.4 308.0,589.7 310.0,589.8 312.0,590.5 314.0,590.4 316.0,589.9 318.0,590.6 320.0,590.1 322.0,590.3 324.0,589.8 326.0,590.6 328.0,590.3 330.0,590.6 332.0,590.6 334.0,590.0 336.0,590.0 338.0,589.9 340.0,589.8 342.0,589.8 344.0,590.0 346.0,590.3 348.0,589.7 350.0,590.4 352.0,590.1 354.0,590.1 356.0,590.6 358.0,590.3 360.0,590.1 362.0,590.3 364.0,590.5 366.0,589.9 368.0,590.8 370.0,589.9 372.0,590.6 374.0,590.7 376.0,589.9 378.0,590.7 380.0,590.3 382.0,590.5 384.0,589.9 386.0,590.0 388.0,590.1 390.0,590.9 392.0,590.2 394.0,590.7 396.0,590.9 398.0,590.9 400.0,590.5 402.0,590.3 404.0,590.3 406.0,590.4 408.0,590.7 410.0,590.0 412.0,590.6 414.0,590.6 416.0,590.7 418.0,589.8 420.0,590.7 422.0,589.8 424.0,590.0 426.0,590.3 428.0,590.6 430.0,590.0 432.0,590.5 434.0,590.1 436.0,589.9 438.0,589.8 440.0,589.7 442.0,589.6 444.0,589.6 446.0,590.1 448.0,590.4 450.0,589.5 452.0,589.4 454.0,590.3 456.0,589.8 458.0,589.7 460.0,589.5 462.0,589.8 464.0,590.0 466.0,589.6 468.0,589.6 470.0,589.2 472.0,590.0 474.0,589.1 476.0,589.5 478.0,589.9 480.0,589.5 481.9,588.8 483.8,589.0 485.6,588.8 487.5,588.1 489.4,587.9 491.2,586.9 493.1,586.8 495.0,586.5 496.8,585.9 498.5,586.3 500.2,585.5 502.0,585.5 504.0,586.2 506.0,587.5 508.0,588.1 510.0,588.5 512.0,589.0 514.0,588.5 516.0,588.6 518.0,588.9 520.0,588.7 522.0,588.5 524.0,588.7 526.0,588.5 528.0,588.7 530.0,589.4 532.0,589.4 534.0,589.1 536.0,589.0 538.0,588.9 540.0,588.7 542.0,588.9 544.0,589.5 546.0,589.6 548.0,589.1 550.0,589.6 552.0,589.6 554.0,589.6 556.0,589.6 558.0,589.7 560.0,589.5 562.0,589.3 564.0,589.6 566.0,589.1 568.0,589.3 570.0,589.5 572.0,589.4 574.0,588.9 576.0,589.5 578.0,589.2 580.0,589.1 582.0,588.5 584.0,588.9 586.0,588.6 588.0,589.0 590.0,588.7 592.0,589.0 594.0,588.8 596.0,588.9 598.0,588.4 600.0,588.5 602.0,588.6" fill="none" stroke="#2a2d40" stroke-width="1"/>
<polyline points="598.0,588.4 600.0,588.5 602.0,588.6 604.0,588.6 606.0,588.6 608.0,588.1 610.0,588.5 612.0,588.4 614.0,588.2 616.0,588.4 618.0,588.3 620.0,587.8 622.0,587.7 624.0,587.3 626.0,587.9 628.0,587.9 630.0,587.4 632.0,587.5 634.0,587.4 636.0,587.4 638.0,586.7 640.0,587.0 642.1,587.2 644.2,586.8 646.3,586.8 648.4,586.4 650.4,586.5 652.5,586.5 654.6,586.3 656.7,586.2 658.8,585.9 660.9,583.5 662.9,581.6 665.0,580.0 666.9,578.0 668.7,576.9 670.6,574.7 672.8,571.5 675.0,570.0 676.5,571.6 678.0,572.0 680.2,569.4 682.4,565.9 685.0,568.0 686.5,567.7 688.0,570.3 690.0,572.6 692.0,574.3 694.0,577.6 696.0,575.4 698.0,576.0 700.5,572.7 703.0,571.8 705.5,570.3 708.0,570.0 709.7,567.6 711.5,566.3 713.2,565.9 715.6,566.5 718.0,570.0 720.1,571.1 722.2,572.0 724.4,573.9 726.5,574.7 728.3,574.4 730.2,572.7 732.0,573.0 734.1,574.9 736.1,572.5 738.2,574.7 740.1,576.0 742.0,578.0 744.5,579.3 747.0,582.0 749.2,581.8 751.3,580.9 753.5,583.3 755.7,581.9 757.8,580.9 760.0,582.5 762.1,583.0 764.1,581.5 766.2,583.0 768.2,582.5 770.3,583.4 772.4,584.7 774.4,584.4 776.5,583.5 778.6,582.6 780.8,583.3 782.9,582.1 785.0,581.0 787.1,579.9 789.1,578.5 791.2,579.0 793.2,579.4 795.1,579.5 797.1,580.9 799.1,581.1 801.1,580.1 803.0,579.4 805.0,580.0 807.0,581.3 808.9,578.6 810.9,579.0 812.8,580.5 814.8,580.7 816.7,579.3 818.6,580.9 820.6,580.6" fill="none" stroke="#373a4f" stroke-width="1"/>
<rect x="823.5" y="564.4" width="15.3" height="19" fill="#34374c"/>
<rect x="823.5" y="570" width="2.4" height="11" fill="#b9bcc8"/>
<rect x="836.4" y="570" width="2.4" height="11" fill="#b9bcc8"/>
<path d="M826,572 L829,570.5 L832,571.5 L836,570.5" stroke="#3cc55c" fill="none" stroke-width="1"/>

<!-- tooltip -->
<rect x="9.2" y="312.4" width="138.7" height="68.1" fill="#1f2234" fill-opacity="0.94" stroke="#2a2d41" stroke-width="0.8"/>
<rect x="9.6" y="312.8" width="137.9" height="19" fill="#262a3e" fill-opacity="0.95"/>
<text x="16.8" y="324.6" font-size="8.1" fill="#6e7286" textLength="90.8" lengthAdjust="spacingAndGlyphs" >07:00, February 13, 2024</text>
<rect x="16.8" y="343.2" width="5.2" height="1.3" fill="#56c2e0"/>
<text x="27.4" y="346.6" font-size="8.4"><tspan fill="#e6e7ee" font-weight="700">28</tspan><tspan fill="#6e7286"> Social Volume</tspan></text>
<rect x="16.8" y="355" width="5.2" height="1.3" fill="#e0565d"/>
<text x="27.4" y="358.4" font-size="8.4"><tspan fill="#e6e7ee" font-weight="700">0.860744%</tspan><tspan fill="#6e7286"> Social Dominance</tspan></text>
<rect x="16.8" y="365.8" width="5.2" height="1.3" fill="#2fbf5c"/>
<text x="27.4" y="369.2" font-size="8.4"><tspan fill="#e6e7ee" font-weight="700">$48,803.55</tspan><tspan fill="#6e7286"> BTC / USD</tspan></text>

<!-- annotations -->
<g stroke-linecap="round">
<g stroke="#0c0d16" stroke-width="5.6" opacity="0.8">
<line x1="86.8" y1="419.9" x2="45" y2="391.5"/><line x1="313.4" y1="384.9" x2="262" y2="401"/><line x1="536.8" y1="392.1" x2="490" y2="417.5"/><line x1="655.6" y1="442.7" x2="704" y2="414"/>
</g>
<line x1="86.8" y1="419.9" x2="45" y2="391.5" stroke="#23ad88" stroke-width="3.7"/>
<polygon points="37.3,384.7 53.5,387.6 43.2,399.6" fill="#23ad88"/>
<line x1="313.4" y1="384.9" x2="262" y2="401" stroke="#23ad88" stroke-width="3.7"/>
<polygon points="254.1,402.2 264.5,393.2 269.4,407.2" fill="#23ad88"/>
<line x1="536.8" y1="392.1" x2="490" y2="417.5" stroke="#e8646a" stroke-width="3.7"/>
<polygon points="480.4,423.8 487.3,410.5 497,424" fill="#e8646a"/>
<line x1="655.6" y1="442.7" x2="704" y2="414" stroke="#f1a64a" stroke-width="3.7"/>
<polygon points="713,406.6 697.4,407.3 706.6,419.6" fill="#f1a64a"/>
</g>
<g stroke-linejoin="round">
<text x="104.8" y="435.9" font-size="14" fill="#23ad88" textLength="94.2" lengthAdjust="spacingAndGlyphs" text-anchor="middle" stroke="#23ad88" stroke-width="0.75">Nov. 14, 2023:</text>
<text x="104.8" y="451.9" font-size="14" fill="#23ad88" textLength="122.5" lengthAdjust="spacingAndGlyphs" text-anchor="middle" stroke="#23ad88" stroke-width="0.75">0.2% CPI Increase,</text>
<text x="104.7" y="467.5" font-size="14" fill="#23ad88" textLength="48.2" lengthAdjust="spacingAndGlyphs" text-anchor="middle" stroke="#23ad88" stroke-width="0.75">Bottom</text>
<text x="317.6" y="344.8" font-size="14" fill="#23ad88" textLength="93.2" lengthAdjust="spacingAndGlyphs" text-anchor="middle" stroke="#23ad88" stroke-width="0.75">Dec. 12, 2023:</text>
<text x="317.8" y="360.8" font-size="14" fill="#23ad88" textLength="118" lengthAdjust="spacingAndGlyphs" text-anchor="middle" stroke="#23ad88" stroke-width="0.75">0.2% CPI Increase</text>
<text x="318.1" y="376.8" font-size="14" fill="#23ad88" textLength="47" lengthAdjust="spacingAndGlyphs" text-anchor="middle" stroke="#23ad88" stroke-width="0.75">Bottom</text>
<text x="548.4" y="353" font-size="14" fill="#e8646a" textLength="90.9" lengthAdjust="spacingAndGlyphs" text-anchor="middle" stroke="#e8646a" stroke-width="0.75">Jan. 11, 2024:</text>
<text x="548.1" y="369.2" font-size="14" fill="#e8646a" textLength="118.6" lengthAdjust="spacingAndGlyphs" text-anchor="middle" stroke="#e8646a" stroke-width="0.75">0.3% CPI Increase</text>
<text x="548.4" y="384.8" font-size="14" fill="#e8646a" textLength="23.2" lengthAdjust="spacingAndGlyphs" text-anchor="middle" stroke="#e8646a" stroke-width="0.75">Top</text>
<text x="648.8" y="457.8" font-size="14" fill="#f1a64a" textLength="89" lengthAdjust="spacingAndGlyphs" text-anchor="middle" stroke="#f1a64a" stroke-width="0.75">Feb. 13, 2024</text>
<text x="648.6" y="473.2" font-size="14" fill="#f1a64a" textLength="117.6" lengthAdjust="spacingAndGlyphs" text-anchor="middle" stroke="#f1a64a" stroke-width="0.75">0.3% CPI Increase</text>
</g>

<!-- headline -->
<g font-weight="700" font-size="21.8" fill="#ffffff" stroke="#05060c" stroke-width="2.4" paint-order="stroke" stroke-linejoin="round" text-anchor="middle">
<text x="424.7" y="270.9" textLength="222.4" lengthAdjust="spacingAndGlyphs">Spikes in Social Media</text>
<text x="426.5" y="294.8" textLength="275.4" lengthAdjust="spacingAndGlyphs">Discussions of CPI Reports,</text>
<text x="425" y="318.8" textLength="141.9" lengthAdjust="spacingAndGlyphs">Past 3 Months</text>
</g>
</svg>
</body></html>
